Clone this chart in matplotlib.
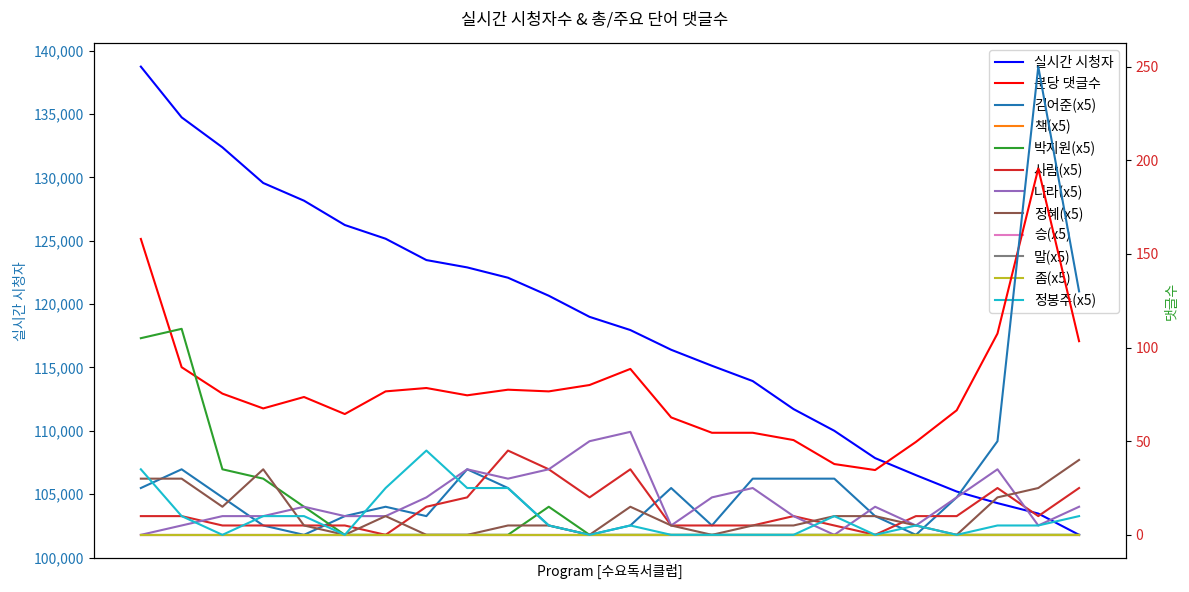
import matplotlib
matplotlib.use('Agg')
import matplotlib.pyplot as plt
from matplotlib.ticker import FuncFormatter

plt.rcParams['font.family'] = ['Noto Sans CJK KR', 'DejaVu Sans']

programs = list(range(24))

viewers = [138737, 134735, 132367, 129556, 128159, 126240, 125159, 123474,
           122895, 122081, 120660, 118993, 117952, 116397, 115134, 113926,
           111716, 110003, 107848, 106505, 105211, 104295, 103474, 101793]

comments_per_min = [158.0, 89.5, 75.4, 67.5, 73.6, 64.5, 76.6, 78.4,
                    74.5, 77.5, 76.6, 80.0, 88.6, 62.7, 54.5, 54.5,
                    50.6, 37.8, 34.6, 49.6, 66.5, 107.5, 195.6, 103.4]

# word counts (raw, plotted x5)
word_counts = {
    '김어준': [5, 7, 4, 1, 0, 2, 3, 2, 7, 5, 1, 0, 1, 5, 1, 6, 6, 6, 2, 0, 4, 10, 50, 26],
    '책': [0] * 24,
    '박지원': [21, 22, 7, 6, 3, 0, 0, 0, 0, 0, 3, 0, 0, 0, 0, 0, 0, 0, 0, 0, 0, 0, 0, 0],
    '사람': [2, 2, 1, 1, 1, 1, 0, 3, 4, 9, 7, 4, 7, 1, 1, 1, 2, 1, 0, 2, 2, 5, 2, 5],
    '나라': [0, 1, 2, 2, 3, 2, 2, 4, 7, 6, 7, 10, 11, 1, 4, 5, 2, 0, 3, 1, 4, 7, 1, 3],
    '정혜': [6, 6, 3, 7, 1, 0, 2, 0, 0, 1, 1, 0, 3, 1, 0, 1, 1, 2, 2, 1, 0, 4, 5, 8],
    '승': [0] * 24,
    '말': [0] * 24,
    '좀': [0] * 24,
    '정봉주': [7, 2, 0, 2, 2, 0, 5, 9, 5, 5, 1, 0, 1, 0, 0, 0, 0, 2, 0, 1, 0, 1, 1, 2],
}

fig, ax1 = plt.subplots(figsize=(11.89, 5.92), dpi=100)
fig.subplots_adjust(left=0.079, right=0.947, top=0.927, bottom=0.057)

l1, = ax1.plot(programs, viewers, color='blue', label='실시간 시청자')
ax1.set_xlabel('Program [수요독서클럽]')
ax1.set_ylabel('실시간 시청자', color='tab:blue')
ax1.tick_params(axis='y', labelcolor='tab:blue')
ax1.yaxis.set_major_formatter(FuncFormatter(lambda v, p: '{:,.0f}'.format(v)))
ax1.set_xticks([])

ax2 = ax1.twinx()
l2, = ax2.plot(programs, comments_per_min, color='red', label='분당 댓글수')
word_lines = []
for word, counts in word_counts.items():
    ln, = ax2.plot(programs, [c * 5 for c in counts], label='{}(x5)'.format(word))
    word_lines.append(ln)
ax2.set_ylabel('댓글수', color='tab:green')
ax2.tick_params(axis='y', labelcolor='tab:red')

lines = [l1, l2] + word_lines
ax1.legend(lines, [l.get_label() for l in lines], loc='upper right')

fig.suptitle('실시간 시청자수 & 총/주요 단어 댓글수')
fig.savefig('out.png')
